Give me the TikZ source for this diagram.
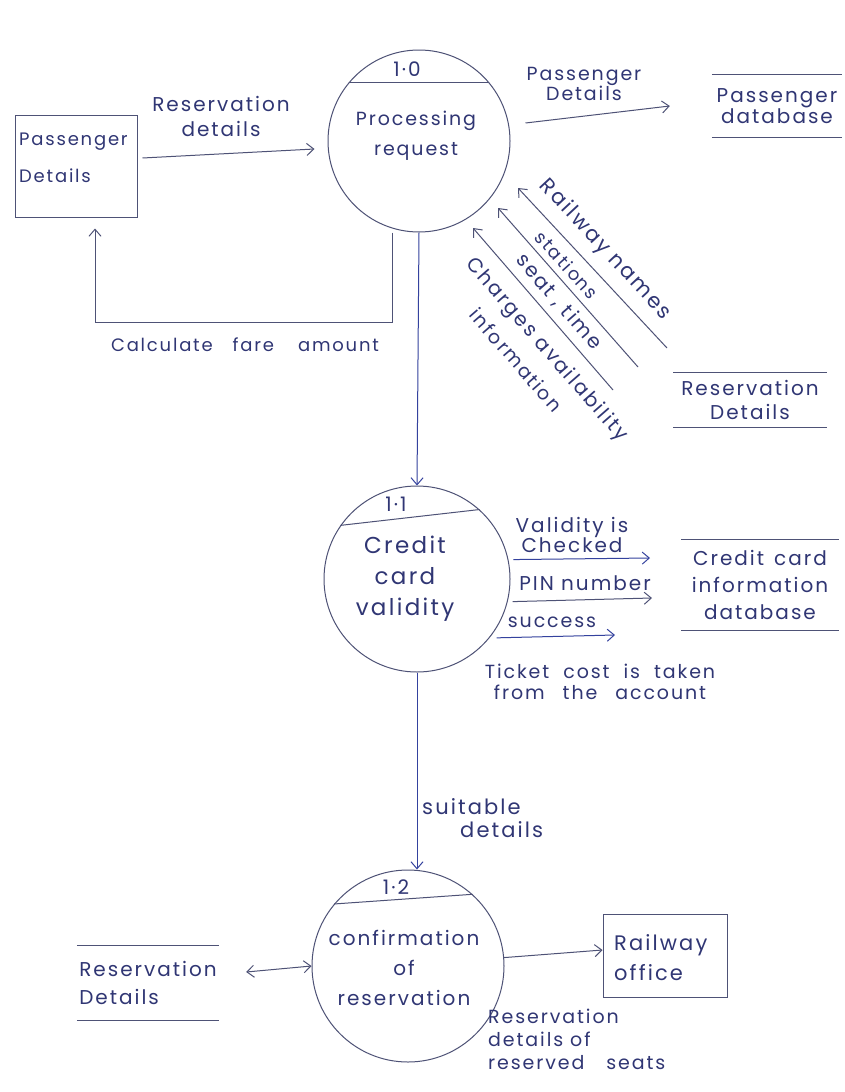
\documentclass[tikz,border=0pt]{standalone}
\usepackage{fontspec}
\setmainfont{Poppins}[LetterSpace=10]
\usetikzlibrary{arrows.meta,calc}
\definecolor{ink}{RGB}{48,54,116}
\definecolor{pen}{RGB}{78,82,118}
\definecolor{blueln}{RGB}{52,66,158}
\newcommand\hw[2]{\fontsize{#1}{#2}\selectfont}
\newcommand\storelines[1]{\draw[pen,line width=1pt] (#1.north west) -- (#1.north east) (#1.south west) -- (#1.south east);}
\begin{document}
\begin{tikzpicture}[x=1pt,y=-1pt,
  every node/.style={text=ink, inner sep=0pt, font=\hw{18}{26}},
  proc/.style={circle, draw=pen, line width=1pt, minimum size=#1},
  ext/.style={rectangle, draw=pen, line width=1pt},
  arr/.style={pen, line width=1pt, -{Straight Barb[length=7pt,width=12pt]}},
  barr/.style={arr, blueln},
  darr/.style={pen, line width=1pt, {Straight Barb[length=7pt,width=12pt]}-{Straight Barb[length=7pt,width=12pt]}},
  chord/.style={pen, line width=1pt},
  store/.style={align=center},
  num/.style={font=\hw{20}{24}}
]
\fill[white] (0,0) rectangle (845,1092);
\useasboundingbox (0,0) rectangle (845,1092);

% processes
\node[proc=182] (p10) at (419,141) {};
\node[proc=186] (p11) at (417,579) {};
\node[proc=192] (p12) at (408,966) {};
\draw[chord] (p10.140) -- (p10.40);
\draw[chord] (p11.145) -- (p11.48);
\draw[chord] (p12.140) -- (p12.48);
\node[num] (n10) at (407,69) {1·0};
\node[num] (n11) at (396,504) {1·1};
\node[num] (n12) at (396,887) {1·2};
\node[align=center, font=\hw{19}{30}] (t10) at (416,136) {Processing\\request};
\node[align=center, font=\hw{23}{31}] (t11) at (405,579) {Credit\\card\\validity};
\node[align=center, font=\hw{20}{30}] (t12) at (404,968) {confirmation\\of\\reservation};

% external entities
\node[ext, minimum width=122, minimum height=102] (pd) at (76,166) {};
\node[align=left, font=\hw{18}{37}, anchor=west] (tpd) at (19,158) {Passenger\\Details};
\node[ext, minimum width=124, minimum height=83] (ro) at (665,956) {};
\node[align=left, font=\hw{21}{30}, anchor=west] (tro) at (614,958) {Railway\\office};

% data stores
\node[store, minimum width=130, minimum height=63, font=\hw{20}{21}] (pdb) at (777,106) {Passenger\\database};
\storelines{pdb}
\node[store, minimum width=153, minimum height=55, font=\hw{20}{24}] (rd1) at (750,400) {Reservation\\Details};
\storelines{rd1}
\node[store, minimum width=157, minimum height=90, font=\hw{20}{27}] (ccdb) at (760,585) {Credit\hspace{10pt}card\\information\\database};
\storelines{ccdb}
\node[store, minimum width=142, minimum height=75, align=left, font=\hw{20}{28}] (rd2) at (148,983) {Reservation\\Details};
\storelines{rd2}

% flows around 1.0
\draw[arr] ([xshift=5pt,yshift=8pt]pd.east) -- ([xshift=-13pt,yshift=-8pt]p10.west);
\node[align=center, font=\hw{20}{25}] (lrd) at (221,116) {Reservation\\details};
\coordinate (fb) at (392,322);
\draw[arr] ([xshift=-27pt]p10.south) -- (fb) -| ([xshift=19pt,yshift=-11pt]pd.south);
\node (lfb) at (245,345) {Calculate\hspace{20pt}fare\hspace{24pt}amount};
\draw[arr] ([xshift=15pt,yshift=18pt]p10.east) -- ([xshift=-42pt]pdb.west);
\node[align=center, font=\hw{19}{19}] (lpd) at (584,84) {Passenger\\Details};

\coordinate (a1s) at (667,348); \coordinate (a1e) at (518,188);
\coordinate (a2s) at (638,367); \coordinate (a2e) at (498,208);
\coordinate (a3s) at (613,390); \coordinate (a3e) at (473,228);
\draw[arr] (a1s) -- (a1e);
\draw[arr] (a2s) -- (a2e);
\draw[arr] (a3s) -- (a3e);
\node[rotate=-47, font=\hw{21}{24}] (lrn) at (605,250) {Railway names};
\node[rotate=-48, font=\hw{18}{24}] (lst) at (567,265) {stations};
\node[rotate=-49, font=\hw{20}{24}] (lse) at (559,302) {seat , time};
\node[rotate=-49, font=\hw{20}{24}] (lch) at (546,350) {Charges availability};
\node[rotate=-49, font=\hw{19}{24}] (lin) at (516,360) {information};

% 1.0 -> 1.1 -> 1.2
\draw[barr] (p10.south) -- (p11.north);
\draw[barr] (p11.south) -- (p11.south |- p12.north);
\node[align=left, font=\hw{21}{23}, anchor=west] (lsu) at (422,818) {suitable\\\hspace*{38pt}details};

% credit card flows
\coordinate (ve) at (650,558);
\coordinate (pe) at (652,598);
\coordinate (se) at (615,635);
\draw[barr] ([xshift=5pt]p11.12) -- (ve);
\draw[arr] ([xshift=5pt]p11.-14) -- (pe);
\draw[barr] ([xshift=7pt]p11.-39) -- (se);
\node[align=center, font=\hw{20}{20}] (lva) at (572,535) {Validity is\\Checked};
\node[font=\hw{20}{20}] (lpin) at (585,583) {PIN number};
\node[font=\hw{19}{20}] (lsc) at (552,622) {success};
\node[align=center, font=\hw{19}{21}] (ltk) at (600,682) {Ticket\hspace{14pt}cost\hspace{14pt}is\hspace{14pt}taken\\from\hspace{18pt}the\hspace{18pt}account};

% 1.2 flows
\draw[darr] ([xshift=27pt,yshift=11pt]rd2.east) -- (p12.west);
\draw[arr] (p12.5) -- ([yshift=6pt]ro.west);
\node[align=left, font=\hw{19}{23}, anchor=north west] (lrs) at (488,1009) {Reservation\\details of\\reserved\hspace{22pt}seats};
\end{tikzpicture}
\end{document}
